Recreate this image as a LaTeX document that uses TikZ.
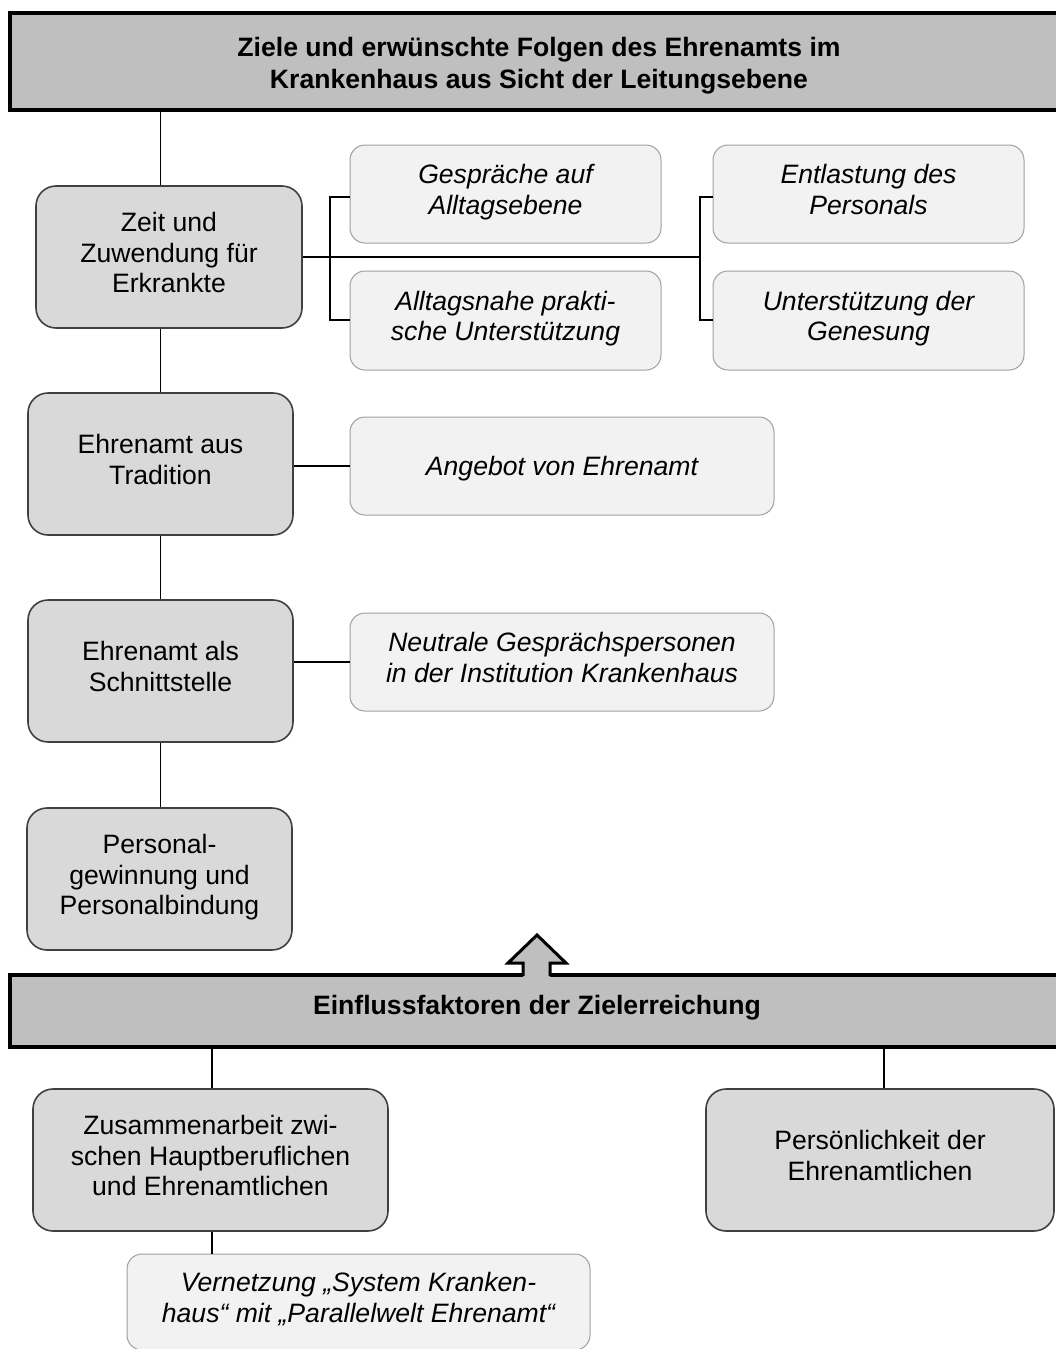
\documentclass[tikz,border=0pt]{standalone}
\usepackage{fontspec}
\setmainfont{Liberation Sans}
\begin{document}
\begin{tikzpicture}[x=1pt,y=-1pt,
  txt/.style={font=\fontsize{26.6}{30.8}\selectfont, align=center, inner sep=0pt},
  header/.style={txt, font=\fontsize{26.6}{32}\selectfont\bfseries, draw=black, line width=3.5pt, fill=headgray},
  mainbox/.style={txt, draw=nodeline, line width=1.6pt, fill=maingray, rounded corners=20pt},
  subbox/.style={txt, font=\fontsize{26.6}{30.8}\selectfont\itshape, draw=subline, line width=1pt, fill=subgray, rounded corners=15pt},
  link/.style={draw=black, line width=1.6pt}
]
\definecolor{headgray}{HTML}{BFBFBF}
\definecolor{maingray}{HTML}{D9D9D9}
\definecolor{subgray}{HTML}{F2F2F2}
\definecolor{nodeline}{HTML}{404040}
\definecolor{subline}{HTML}{A0A0A0}

\useasboundingbox (0,0) rectangle (1056,1349);
\clip (0,0) rectangle (1056,1349);

% Upper part: goals
\node[header, minimum width=1058pt, minimum height=97pt] (top) at (539,61.5)
  {\rule{0pt}{28.4pt}Ziele und erwünschte Folgen des Ehrenamts im\\Krankenhaus aus Sicht der Leitungsebene};

\node[mainbox, minimum width=266pt, minimum height=142pt] (zeit) at (169,257) {Zeit und\\Zuwendung für\\Erkrankte\strut};
\node[mainbox, minimum width=265pt, minimum height=142pt] (trad) at (160.5,464) {Ehrenamt aus\\Tradition\strut};
\node[mainbox, minimum width=265pt, minimum height=142pt] (schn) at (160.5,671) {Ehrenamt als\\Schnittstelle\strut};
\node[mainbox, minimum width=265pt, minimum height=142pt] (pers) at (159.5,879) {Personal-\\gewinnung und\\Personalbindung\strut};

\node[subbox, minimum width=311pt, minimum height=98pt] (gesp) at (505.5,194) {Gespräche auf\\Alltagsebene\strut};
\node[subbox, minimum width=311pt, minimum height=99pt] (allt) at (505.5,320.5) {Alltagsnahe prakti-\\sche Unterstützung\strut};
\node[subbox, minimum width=311pt, minimum height=98pt] (entl) at (868.5,194) {Entlastung des\\Personals\strut};
\node[subbox, minimum width=311pt, minimum height=99pt] (gene) at (868.5,320.5) {Unterstützung der\\Genesung\strut};
\node[subbox, minimum width=424pt, minimum height=98pt, text depth=0pt] (angb) at (562,466) {Angebot von Ehrenamt};
\node[subbox, minimum width=424pt, minimum height=98pt] (neut) at (562,662) {Neutrale Gesprächspersonen\\in der Institution Krankenhaus\strut};

% spine of the left column
\draw[link] (top.south -| trad.north) -- (zeit.north -| trad.north);
\draw[link] (zeit.south -| trad.north) -- (trad.north);
\draw[link] (trad.south) -- (schn.north);
\draw[link] (schn.south) -- (pers.north -| schn.south);

% branches from "Zeit und Zuwendung"
\coordinate (lb) at (330,257);
\coordinate (rb) at (700,257);
\draw[link] (zeit.east) -- (rb);
\draw[link] (gesp.west |- 0,197) -| (lb) |- (allt.west |- 0,320);
\draw[link] (entl.west |- 0,197) -| (rb) |- (gene.west |- 0,320);

\draw[link] (trad.east |- angb.west) -- (angb.west);
\draw[link] (schn.east |- neut.west) -- (neut.west);

% Lower part: influencing factors
\node[header, minimum width=1054pt, minimum height=72pt] (infl) at (537,1011)
  {Einflussfaktoren der Zielerreichung\rule[-12.4pt]{0pt}{12.4pt}};

% block arrow pointing up from the lower header
\fill[headgray] (523,978) -- (523,963) -- (508,963) -- (537,935) -- (566,963) -- (550,963) -- (550,978) -- cycle;
\draw[line width=3pt, line join=miter] (523,976) -- (523,963) -- (508,963) -- (537,935) -- (566,963) -- (550,963) -- (550,976);

\node[mainbox, minimum width=355pt, minimum height=142pt] (zus) at (210.5,1160) {Zusammenarbeit zwi-\\schen Hauptberuflichen\\und Ehrenamtlichen\strut};
\node[mainbox, minimum width=348pt, minimum height=142pt] (pkt) at (880,1160) {Persönlichkeit der\\Ehrenamtlichen\strut};
\node[subbox, minimum width=463pt, minimum height=96pt] (vern) at (358.5,1302) {Vernetzung „System Kranken-\\haus“ mit „Parallelwelt Ehrenamt“\strut};

\draw[link, line width=1.2pt] (infl.south -| 212,0) -- (zus.north -| 212,0);
\draw[link, line width=1.2pt] (infl.south -| 884,0) -- (pkt.north -| 884,0);
\draw[link, line width=1.2pt] (zus.south -| 212,0) -- (vern.north -| 212,0);
\end{tikzpicture}
\end{document}
